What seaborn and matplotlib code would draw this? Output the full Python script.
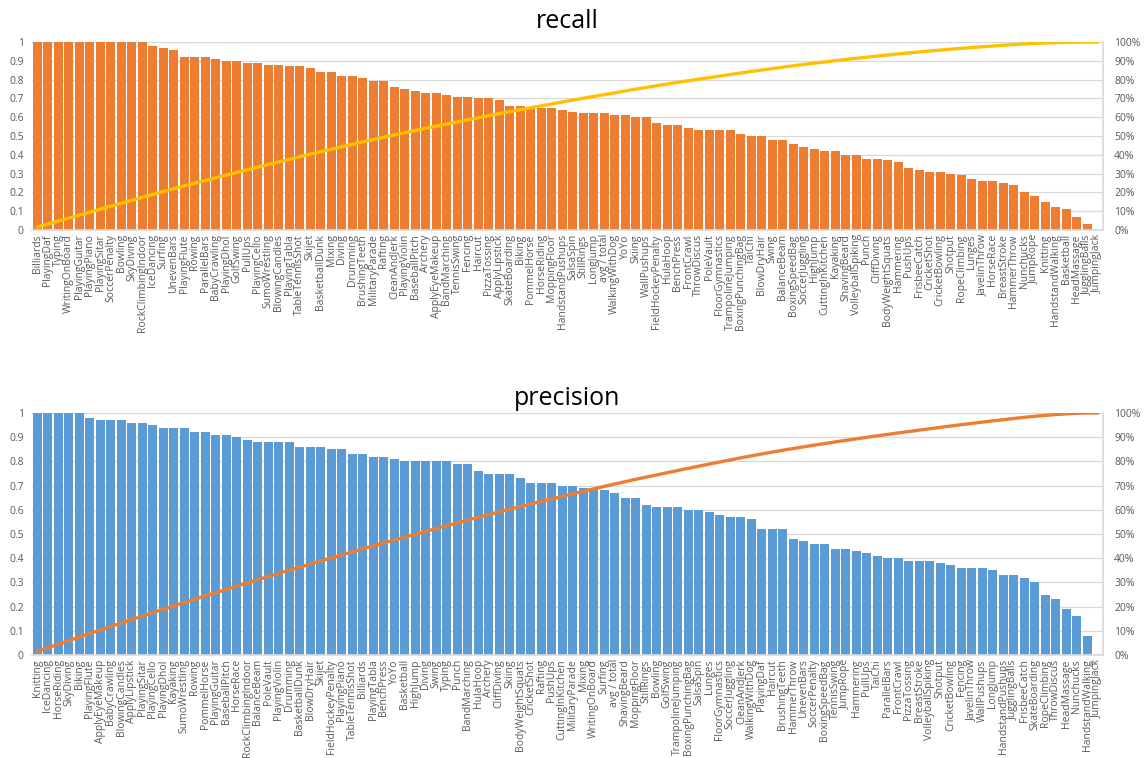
import numpy as np
import pandas as pd
import matplotlib
matplotlib.use("Agg")
import matplotlib.pyplot as plt
from matplotlib.ticker import FuncFormatter, MultipleLocator
import seaborn as sns

recall_labels = [
    "Billiards", "PlayingDaf", "Typing", "WritingOnBoard", "PlayingGuitar", "PlayingPiano",
    "PlayingSitar", "SoccerPenalty", "Bowling", "SkyDiving", "RockClimbingIndoor", "IceDancing",
    "Surfing", "UnevenBars", "PlayingFlute", "Rowing", "ParallelBars", "BabyCrawling",
    "PlayingDhol", "GolfSwing", "PullUps", "PlayingCello", "SumoWrestling", "BlowingCandles",
    "PlayingTabla", "TableTennisShot", "Skijet", "BasketballDunk", "Mixing", "Diving",
    "Drumming", "BrushingTeeth", "MilitaryParade", "Rafting", "CleanAndJerk", "PlayingViolin",
    "BaseballPitch", "Archery", "ApplyEyeMakeup", "BandMarching", "TennisSwing", "Fencing",
    "Haircut", "PizzaTossing", "ApplyLipstick", "SkateBoarding", "Biking", "PommelHorse",
    "HorseRiding", "MoppingFloor", "HandstandPushups", "SalsaSpin", "StillRings", "LongJump",
    "avg / total", "WalkingWithDog", "YoYo", "Skiing", "WallPushups", "FieldHockeyPenalty",
    "HulaHoop", "BenchPress", "FrontCrawl", "ThrowDiscus", "PoleVault", "FloorGymnastics",
    "TrampolineJumping", "BoxingPunchingBag", "TaiChi", "BlowDryHair", "Swing", "BalanceBeam",
    "BoxingSpeedBag", "SoccerJuggling", "HighJump", "CuttingInKitchen", "Kayaking", "ShavingBeard",
    "VolleyballSpiking", "Punch", "CliffDiving", "BodyWeightSquats", "Hammering", "PushUps",
    "FrisbeeCatch", "CricketShot", "CricketBowling", "Shotput", "RopeClimbing", "Lunges",
    "JavelinThrow", "HorseRace", "BreastStroke", "HammerThrow", "Nunchucks", "JumpRope",
    "Knitting", "HandstandWalking", "Basketball", "HeadMassage", "JugglingBalls", "JumpingJack",
]
recall_values = [
    1.0, 1.0, 1.0, 1.0, 1.0, 1.0, 1.0, 1.0, 1.0, 1.0, 1.0, 0.98,
    0.97, 0.96, 0.92, 0.92, 0.92, 0.91, 0.90, 0.90, 0.89, 0.89, 0.88, 0.88,
    0.87, 0.87, 0.86, 0.84, 0.84, 0.82, 0.82, 0.81, 0.79, 0.79, 0.76, 0.75,
    0.74, 0.73, 0.73, 0.72, 0.71, 0.71, 0.70, 0.70, 0.69, 0.66, 0.66, 0.65,
    0.65, 0.65, 0.64, 0.63, 0.62, 0.62, 0.62, 0.61, 0.61, 0.60, 0.60, 0.57,
    0.56, 0.56, 0.54, 0.53, 0.53, 0.53, 0.53, 0.51, 0.50, 0.50, 0.48, 0.48,
    0.46, 0.44, 0.43, 0.42, 0.42, 0.40, 0.40, 0.38, 0.38, 0.37, 0.36, 0.33,
    0.32, 0.31, 0.31, 0.30, 0.29, 0.27, 0.26, 0.26, 0.25, 0.24, 0.20, 0.18,
    0.15, 0.12, 0.11, 0.07, 0.03, 0.0,
]

precision_labels = [
    "Knitting", "IceDancing", "HorseRiding", "SkyDiving", "Biking", "PlayingFlute",
    "ApplyEyeMakeup", "BabyCrawling", "BlowingCandles", "ApplyLipstick", "PlayingSitar", "PlayingCello",
    "PlayingDhol", "Kayaking", "SumoWrestling", "Rowing", "PommelHorse", "PlayingGuitar",
    "BaseballPitch", "HorseRace", "RockClimbingIndoor", "BalanceBeam", "PoleVault", "PlayingViolin",
    "Drumming", "BasketballDunk", "BlowDryHair", "Skijet", "FieldHockeyPenalty", "PlayingPiano",
    "TableTennisShot", "Billiards", "PlayingTabla", "BenchPress", "YoYo", "Basketball",
    "HighJump", "Diving", "Swing", "Typing", "Punch", "BandMarching",
    "HulaHoop", "Archery", "CliffDiving", "Skiing", "BodyWeightSquats", "CricketShot",
    "Rafting", "PushUps", "CuttingInKitchen", "MilitaryParade", "Mixing", "WritingOnBoard",
    "Surfing", "avg / total", "ShavingBeard", "MoppingFloor", "StillRings", "Bowling",
    "GolfSwing", "TrampolineJumping", "BoxingPunchingBag", "SalsaSpin", "Lunges", "FloorGymnastics",
    "SoccerJuggling", "CleanAndJerk", "WalkingWithDog", "PlayingDaf", "Haircut", "BrushingTeeth",
    "HammerThrow", "UnevenBars", "SoccerPenalty", "BoxingSpeedBag", "TennisSwing", "JumpRope",
    "Hammering", "PullUps", "TaiChi", "ParallelBars", "FrontCrawl", "PizzaTossing",
    "BreastStroke", "VolleyballSpiking", "Shotput", "CricketBowling", "Fencing", "JavelinThrow",
    "WallPushups", "LongJump", "HandstandPushups", "JugglingBalls", "FrisbeeCatch", "SkateBoarding",
    "RopeClimbing", "ThrowDiscus", "HeadMassage", "Nunchucks", "HandstandWalking", "JumpingJack",
]
precision_values = [
    1.0, 1.0, 1.0, 1.0, 1.0, 0.98, 0.97, 0.97, 0.97, 0.96, 0.96, 0.95,
    0.94, 0.94, 0.94, 0.92, 0.92, 0.91, 0.91, 0.90, 0.89, 0.88, 0.88, 0.88,
    0.88, 0.86, 0.86, 0.86, 0.85, 0.85, 0.83, 0.83, 0.82, 0.82, 0.81, 0.80,
    0.80, 0.80, 0.80, 0.80, 0.79, 0.79, 0.76, 0.75, 0.75, 0.75, 0.73, 0.71,
    0.71, 0.71, 0.70, 0.70, 0.69, 0.69, 0.68, 0.67, 0.65, 0.65, 0.62, 0.61,
    0.61, 0.61, 0.60, 0.60, 0.59, 0.58, 0.57, 0.57, 0.56, 0.52, 0.52, 0.52,
    0.48, 0.47, 0.46, 0.46, 0.44, 0.44, 0.43, 0.42, 0.41, 0.40, 0.40, 0.39,
    0.39, 0.39, 0.38, 0.37, 0.36, 0.36, 0.36, 0.35, 0.33, 0.33, 0.32, 0.30,
    0.25, 0.23, 0.19, 0.16, 0.08, 0.0,
]

sns.set_theme(style="white")
plt.rcParams["font.family"] = ["Open Sans", "DejaVu Sans"]

fig = plt.figure(figsize=(11.44, 7.58), dpi=100)
W, H = 1144, 758

def panel(top_px, bottom_px, title, title_pad, labels, values, bar_color, line_color):
    left_px, right_px = 32, 1103
    ax = fig.add_axes([left_px / W, 1 - bottom_px / H,
                       (right_px - left_px) / W, (bottom_px - top_px) / H])
    df = pd.DataFrame({"label": labels, "value": values})
    sns.barplot(data=df, x="label", y="value", ax=ax, color=bar_color,
                saturation=1, width=0.9, edgecolor="none")
    n = len(labels)
    ax.set_xlim(-0.5, n - 0.5)
    ax.set_ylim(0, 1)
    ax.yaxis.set_major_locator(MultipleLocator(0.1))
    ax.yaxis.set_major_formatter(FuncFormatter(lambda v, p: f"{round(v, 1):g}"))
    ax.grid(axis="y", color="#D9D9D9", linewidth=0.9)
    ax.set_axisbelow(True)
    ax.set_xlabel("")
    ax.set_ylabel("")
    ax.tick_params(axis="x", rotation=90, labelsize=7.5, length=0, pad=3, colors="#595959")
    ax.tick_params(axis="y", labelsize=7.5, length=0, pad=6, colors="#595959")
    for s in ["top", "left", "right"]:
        ax.spines[s].set_visible(False)
    ax.spines["bottom"].set_color("#D9D9D9")

    vals = np.asarray(values, dtype=float)
    cum = np.cumsum(vals) / vals.sum()
    ax2 = ax.twinx()
    sns.lineplot(x=np.arange(n), y=cum, ax=ax2, color=line_color, linewidth=2.4)
    ax2.set_ylim(0, 1)
    ax2.set_xlim(-0.5, n - 0.5)
    ax2.yaxis.set_major_locator(MultipleLocator(0.1))
    ax2.yaxis.set_major_formatter(FuncFormatter(lambda v, p: f"{int(round(v * 100))}%"))
    ax2.tick_params(axis="y", labelsize=7.5, length=0, pad=8, colors="#595959")
    for s in ["top", "left", "bottom"]:
        ax2.spines[s].set_visible(False)
    ax2.spines["right"].set_color("#D9D9D9")
    ax2.grid(False)
    ax.set_title(title, fontsize=18, color="#000000", pad=title_pad)
    return ax

panel(42, 230, "recall", 10, recall_labels, recall_values, "#ED7D31", "#FFC000")
panel(413, 655, "precision", 6, precision_labels, precision_values, "#5B9BD5", "#ED7D31")

fig.savefig("out.png", dpi=100)
